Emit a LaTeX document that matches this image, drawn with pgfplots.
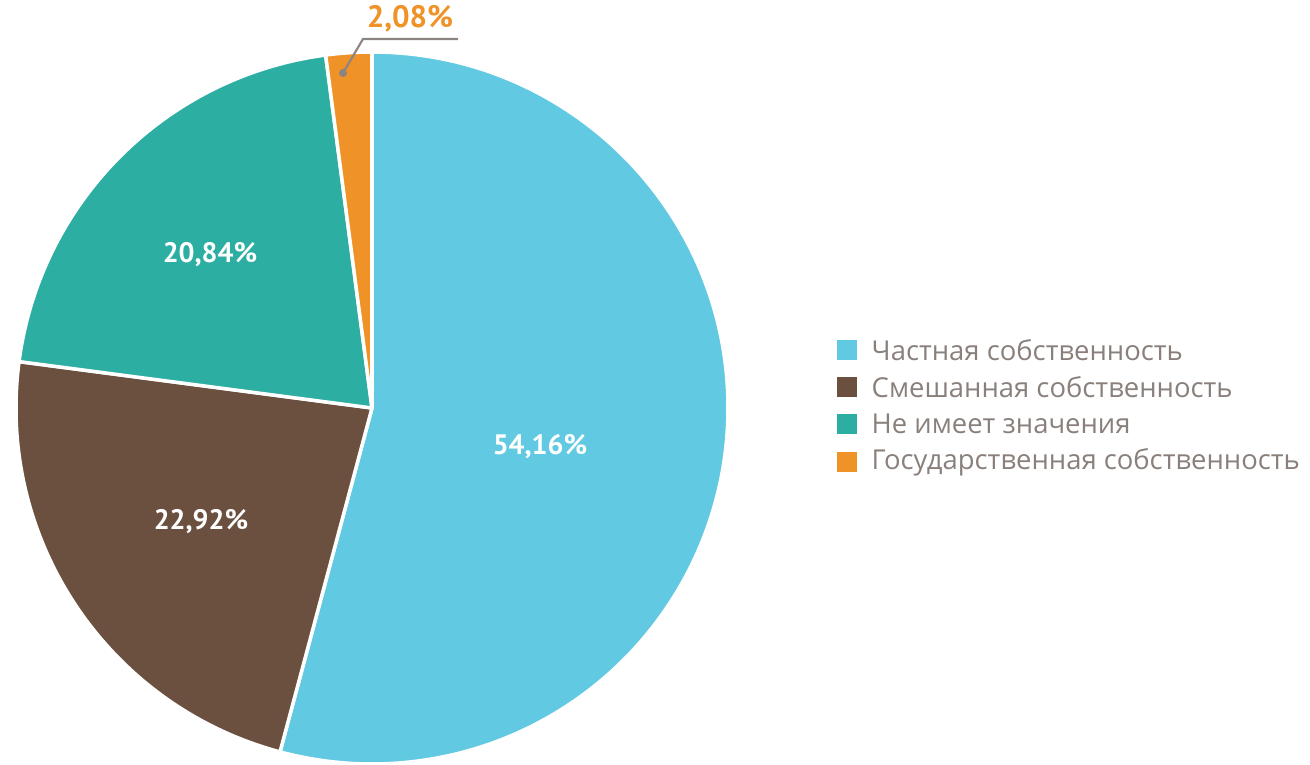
\documentclass[border=0pt]{standalone}
\usepackage{pgfplots}
\pgfplotsset{compat=1.18}
\usepackage{pgfplotstable}
\usepackage{fontspec}
\setmainfont{PT Sans}
\newfontfamily\legfont{Open Sans}
\definecolor{cBlue}{HTML}{62C9E2}
\definecolor{cBrown}{HTML}{6B5040}
\definecolor{cTeal}{HTML}{2DAEA2}
\definecolor{cOrange}{HTML}{EF9227}
\definecolor{cText}{HTML}{8A807B}
\definecolor{cLine}{HTML}{8C8480}
\begin{document}
\begin{tikzpicture}
\begin{axis}[
  width=13.1cm, height=7.64cm, scale only axis,
  xmin=0, xmax=1310, ymin=0, ymax=764,
  hide axis, clip=false,
]
\pgfplotsextra{
  \foreach \v/\col [remember=\e as \s (initially 90)] in {54.16/cBlue,22.92/cBrown,20.84/cTeal,2.08/cOrange} {
    \pgfmathsetmacro\e{\s-3.6*\v}
    \fill[\col, draw=white, line width=1pt, line join=round]
      (axis cs:372,356) -- ++(\s:3.56cm) arc[start angle=\s, end angle=\e, radius=3.56cm] -- cycle;
  }
}
% slice labels
\node[white, font=\bfseries\fontsize{8}{9}\selectfont] at (axis cs:540,317) {54,16\%};
\node[white, font=\bfseries\fontsize{8}{9}\selectfont] at (axis cs:201,242) {22,92\%};
\node[white, font=\bfseries\fontsize{8}{9}\selectfont] at (axis cs:210,509) {20,84\%};
\draw[cLine, line width=0.6pt] (axis cs:343,691) -- (axis cs:363,725) -- (axis cs:458,725);
\fill[cLine] (axis cs:343,691) circle[radius=0.04cm];
\node[cOrange, font=\bfseries\fontsize{8.8}{10}\selectfont] at (axis cs:410,745) {2,08\%};
% legend
\foreach \yy/\col/\txt in {414/cBlue/Частная собственность,377/cBrown/Смешанная собственность,340/cTeal/Не имеет значения,302/cOrange/Государственная собственность}{
  \edef\temp{\noexpand\fill[\col] (axis cs:837,\yy-10) rectangle (axis cs:857,\yy+10);
  \noexpand\node[anchor=west, inner sep=0pt, text=cText, font=\noexpand\legfont\noexpand\fontsize{7.8}{9}\noexpand\selectfont] at (axis cs:871,\yy) {\txt};}
  \temp
}
\end{axis}
\pgfresetboundingbox
\path (current axis.south west) rectangle (current axis.north east);
\end{tikzpicture}
\end{document}
